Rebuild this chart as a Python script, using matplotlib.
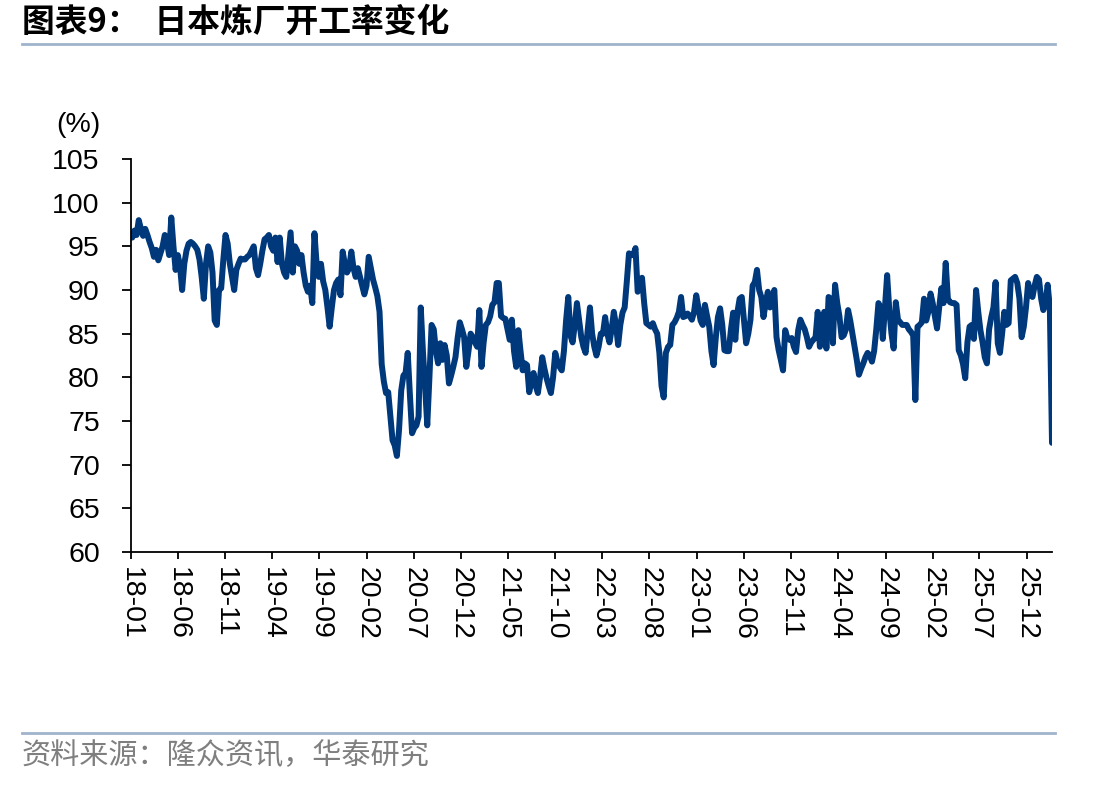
import matplotlib
matplotlib.use("Agg")
import matplotlib.pyplot as plt
import pandas as pd
import numpy as np

plt.rcParams['font.family'] = ['Liberation Sans', 'Noto Sans CJK SC', 'DejaVu Sans']

# Weekly refinery utilisation (%), one list per year
v2018 = [96, 96.8, 96.3, 98, 97, 96.2, 97, 96.3, 95.5, 94.8, 93.8, 94.6, 93.4, 94.2, 95, 96.3,
         95.5, 94, 98.3, 95, 92.3, 94, 92.8, 90, 93, 94.5, 95.3, 95.5, 95.3, 95, 94.6, 93.5,
         91.5, 89, 93, 95, 94.3, 92, 86.5, 86, 90, 90.2, 93.5, 96.3, 95.3, 93, 91.5, 90,
         92.3, 93, 93.6, 93.5]
v2019 = [93.5, 93.8, 94, 94.5, 95, 92.5, 91.7, 93, 94.5, 95.8, 96, 96.3, 95, 94.5, 96, 93.2,
         96, 93, 92, 91.5, 94, 96.6, 92, 95, 94.5, 93, 94, 92, 90.5, 89.8, 90.5, 88.5,
         96.5, 93, 91.5, 93, 91, 90, 88, 85.8, 88, 90, 90.8, 91.2, 89.4, 94.4, 93, 92,
         92.5, 94.4, 92.5, 91.5]
v2020 = [92.5, 91.5, 90.5, 89.5, 90.5, 93.8, 92.5, 91.2, 90.3, 89.3, 87.5, 81.5, 79.5, 78.2, 78.3, 75.5,
         72.8, 72.2, 71, 74, 78.5, 80.2, 80.5, 82.8, 78, 73.6, 74.2, 74.5, 75.5, 88, 83, 78.9,
         74.5, 80, 86, 85.5, 83, 81.6, 83.9, 82, 83.7, 82.5, 79.3, 80.2, 81.2, 82.3, 84.5, 86.3,
         85.5, 84.6, 81.2, 83]
v2021 = [85, 84.6, 84, 83.5, 87.7, 81.2, 84, 86, 86.3, 87, 88.3, 88.6, 90.8, 90.8, 87, 86.8,
         86.7, 85.5, 84.3, 86.6, 83, 81.2, 85.4, 83, 80.8, 81.6, 81.4, 78.3, 79.5, 80.5, 79, 78.2,
         80, 82.3, 81, 79.9, 79, 78.2, 80, 82.8, 81.8, 81.2, 80.8, 83, 86.5, 89.2, 84.8, 84,
         86, 88.5, 86.5, 84.6, 83.5]
v2022 = [82.8, 85.5, 88, 85, 83.5, 82.5, 83.5, 85, 85, 86.9, 85, 84, 85.5, 87.5, 86, 83.7,
         86, 87.4, 88, 91, 94.2, 94, 94, 94.8, 89.8, 90.5, 91.4, 88.5, 86.2, 86, 85.8, 86.2,
         85.5, 85, 82.8, 79, 77.7, 82.8, 83.5, 83.7, 86, 86.3, 86.8, 87.5, 89.2, 86.9, 87, 87.3,
         87, 86.6, 87.5, 89.4]
v2023 = [88, 86.5, 86, 88.3, 87, 85.8, 83, 81.4, 84.5, 86.9, 87.9, 86, 83.1, 83, 83, 85.5,
         87.4, 84.3, 87.5, 89, 89.2, 86.5, 83.9, 85, 86.6, 90.5, 90.9, 92.3, 90, 89.2, 86.9, 88.5,
         89.8, 88, 89, 90, 84.6, 83.1, 82, 80.8, 85.4, 84.5, 84.3, 84.5, 83.5, 82.9, 85.4, 86.6,
         86, 85.5, 84.6, 83.5]
v2024 = [84, 84.3, 84.6, 87.5, 83.5, 86, 87.5, 83.3, 89.2, 89, 83.9, 90.6, 88.5, 87, 84.6, 84.8,
         85.5, 87.7, 86.5, 85, 83.5, 82, 80.3, 81, 81.6, 82.3, 82.8, 82.5, 81.8, 83, 85.5, 88.5,
         88, 84.4, 88, 91.7, 87.7, 85, 83.3, 88.6, 86.6, 86.3, 86, 86, 86, 85.5, 85.2, 84.8,
         77.4, 85.8, 86, 86.3]
v2025 = [89, 86.5, 87.5, 89.6, 88.5, 87, 85.6, 88, 90.2, 88.5, 93.1, 89, 88.6, 88.5, 88.5, 88.3,
         83.1, 82.5, 81.5, 79.9, 84, 85.8, 86, 84.4, 90, 87.5, 85.4, 84, 82.3, 81.6, 85.5, 86.9,
         88, 90.9, 83.9, 82.8, 85, 87.5, 86, 86.2, 91.1, 91.3, 91.5, 90.8, 89, 84.6, 85.8, 88,
         90.8, 89.5, 89.2, 90.5]
v2026 = [91.5, 91.2, 89, 87.7, 88.5, 90.6, 88, 72.5]

values = v2018 + v2019 + v2020 + v2021 + v2022 + v2023 + v2024 + v2025 + v2026
dates = pd.date_range('2018-01-05', periods=len(values), freq='W-FRI')

tick_dates = pd.date_range('2018-01-01', '2025-12-01', freq='5MS')
tick_labels = [d.strftime('%y-%m') for d in tick_dates]

title = '图表9：  日本炼厂开工率变化'
source = '资料来源：隆众资讯，华泰研究'
ylabel = '(%)'

W, H = 1112, 787
fig = plt.figure(figsize=(W / 100, H / 100), dpi=100)

ax = fig.add_axes([131 / W, 1 - 552 / H, (1052 - 131) / W, (552 - 159) / H])
ax.plot(dates, values, color='#00387C', lw=4.3, solid_joinstyle='round', solid_capstyle='round')

ax.set_ylim(60, 105)
ax.set_yticks(np.arange(60, 106, 5))
ax.set_xlim(pd.Timestamp('2018-01-01'), dates[-1])
ax.set_xticks(tick_dates)
ax.set_xticklabels(tick_labels, rotation=270)
ax.xaxis.set_minor_locator(matplotlib.ticker.NullLocator())

for s in ['top', 'right']:
    ax.spines[s].set_visible(False)
for s in ['left', 'bottom']:
    ax.spines[s].set_linewidth(1.3)
    ax.spines[s].set_color('black')
ax.tick_params(axis='y', direction='out', length=6.5, width=1.3, labelsize=20.5, pad=16)
ax.tick_params(axis='x', direction='out', length=5, width=1.3, labelsize=20.5, pad=6)

fig.text(78 / W, 1 - 125 / H, ylabel, ha='center', va='center', fontsize=20.5)

# Title and separator lines
fig.text(22 / W, 1 - 22 / H, title, ha='left', va='center', fontsize=23.6, fontweight='bold',
         family=['Noto Sans CJK SC', 'DejaVu Sans'])
fig.add_artist(plt.Line2D([22 / W, 1055 / W], [1 - 44 / H, 1 - 44 / H], color='#9FB3CB', lw=2))
fig.add_artist(plt.Line2D([22 / W, 1055 / W], [1 - 733 / H, 1 - 733 / H], color='#9FB3CB', lw=2))
fig.text(22 / W, 1 - 756 / H, source, ha='left', va='center', fontsize=21, color='#7F7F7F',
         family=['Noto Sans CJK SC', 'DejaVu Sans'])

fig.savefig('out.png', dpi=100)
